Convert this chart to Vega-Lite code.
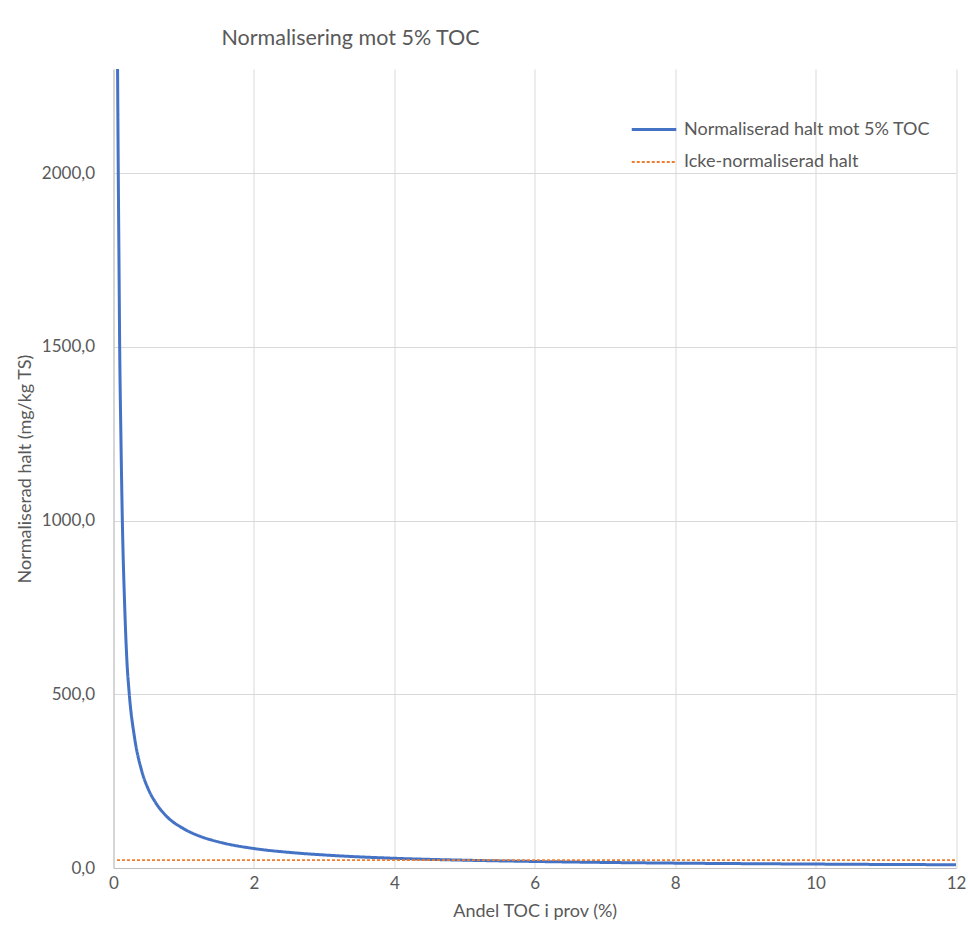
{
  "$schema": "https://vega.github.io/schema/vega-lite/v6.json",
  "autosize": {"type": "none"},
  "padding": {"left": 113.5, "top": 69, "right": 12, "bottom": 72},
  "width": 842.5,
  "height": 799,
  "background": "white",
  "title": {
    "text": "Normalisering mot 5% TOC",
    "anchor": "start",
    "frame": "group",
    "dx": 108,
    "offset": 20,
    "font": "Lato",
    "fontSize": 21.5,
    "fontWeight": "normal",
    "color": "#595959"
  },
  "data": {
    "values": [
      {"toc": 0.058, "halt": 2300, "serie": "Normaliserad halt mot 5% TOC"},
      {"toc": 0.068, "halt": 2000, "serie": "Normaliserad halt mot 5% TOC"},
      {"toc": 0.078, "halt": 1750, "serie": "Normaliserad halt mot 5% TOC"},
      {"toc": 0.088, "halt": 1500, "serie": "Normaliserad halt mot 5% TOC"},
      {"toc": 0.105, "halt": 1250, "serie": "Normaliserad halt mot 5% TOC"},
      {"toc": 0.126, "halt": 1000, "serie": "Normaliserad halt mot 5% TOC"},
      {"toc": 0.16, "halt": 750, "serie": "Normaliserad halt mot 5% TOC"},
      {"toc": 0.19, "halt": 600, "serie": "Normaliserad halt mot 5% TOC"},
      {"toc": 0.225, "halt": 500, "serie": "Normaliserad halt mot 5% TOC"},
      {"toc": 0.3, "halt": 375, "serie": "Normaliserad halt mot 5% TOC"},
      {"toc": 0.4, "halt": 281, "serie": "Normaliserad halt mot 5% TOC"},
      {"toc": 0.5, "halt": 225, "serie": "Normaliserad halt mot 5% TOC"},
      {"toc": 0.6, "halt": 188, "serie": "Normaliserad halt mot 5% TOC"},
      {"toc": 0.75, "halt": 150, "serie": "Normaliserad halt mot 5% TOC"},
      {"toc": 1.0, "halt": 113, "serie": "Normaliserad halt mot 5% TOC"},
      {"toc": 1.25, "halt": 90, "serie": "Normaliserad halt mot 5% TOC"},
      {"toc": 1.5, "halt": 75, "serie": "Normaliserad halt mot 5% TOC"},
      {"toc": 2, "halt": 56, "serie": "Normaliserad halt mot 5% TOC"},
      {"toc": 2.5, "halt": 45, "serie": "Normaliserad halt mot 5% TOC"},
      {"toc": 3, "halt": 37.5, "serie": "Normaliserad halt mot 5% TOC"},
      {"toc": 4, "halt": 28, "serie": "Normaliserad halt mot 5% TOC"},
      {"toc": 5, "halt": 22.5, "serie": "Normaliserad halt mot 5% TOC"},
      {"toc": 6, "halt": 18.8, "serie": "Normaliserad halt mot 5% TOC"},
      {"toc": 7, "halt": 16, "serie": "Normaliserad halt mot 5% TOC"},
      {"toc": 8, "halt": 14, "serie": "Normaliserad halt mot 5% TOC"},
      {"toc": 9, "halt": 12.5, "serie": "Normaliserad halt mot 5% TOC"},
      {"toc": 10, "halt": 11.3, "serie": "Normaliserad halt mot 5% TOC"},
      {"toc": 11, "halt": 10.2, "serie": "Normaliserad halt mot 5% TOC"},
      {"toc": 12, "halt": 9.4, "serie": "Normaliserad halt mot 5% TOC"},
      {"toc": 0.05, "halt": 22.5, "serie": "Icke-normaliserad halt"},
      {"toc": 12, "halt": 22.5, "serie": "Icke-normaliserad halt"}
    ]
  },
  "mark": {"type": "line", "interpolate": "monotone", "clip": true},
  "encoding": {
    "x": {
      "field": "toc",
      "type": "quantitative",
      "scale": {"domain": [0, 12], "nice": false},
      "axis": {
        "title": "Andel TOC i prov (%)",
        "values": [0, 2, 4, 6, 8, 10, 12],
        "labelExpr": "format(datum.value, 'd')",
        "labelFlush": false,
        "ticks": false,
        "labelPadding": 7,
        "titlePadding": 11,
        "domainColor": "#BFBFBF",
        "gridColor": "#D9D9D9"
      }
    },
    "y": {
      "field": "halt",
      "type": "quantitative",
      "scale": {"domain": [0, 2300], "nice": false},
      "axis": {
        "title": "Normaliserad halt (mg/kg TS)",
        "values": [0, 500, 1000, 1500, 2000],
        "labelExpr": "replace(format(datum.value, '.1f'), '.', ',')",
        "labelFlush": false,
        "ticks": false,
        "labelPadding": 19,
        "titlePadding": 7,
        "domainColor": "#BFBFBF",
        "gridColor": "#D9D9D9"
      }
    },
    "color": {
      "field": "serie",
      "type": "nominal",
      "scale": {
        "domain": ["Normaliserad halt mot 5% TOC", "Icke-normaliserad halt"],
        "range": ["#4472C4", "#ED7D31"]
      },
      "legend": {
        "title": null,
        "orient": "none",
        "legendX": 516.5,
        "legendY": 36.5,
        "symbolType": "stroke",
        "symbolSize": 1980,
        "symbolStrokeWidth": 2.5,
        "labelFont": "Lato",
        "labelFontSize": 18,
        "labelLimit": 500,
        "labelColor": "#595959",
        "labelOffset": 6,
        "rowPadding": -9
      }
    },
    "strokeDash": {
      "field": "serie",
      "type": "nominal",
      "scale": {
        "domain": ["Normaliserad halt mot 5% TOC", "Icke-normaliserad halt"],
        "range": [[1, 0], [3, 2]]
      },
      "legend": null
    },
    "strokeWidth": {
      "field": "serie",
      "type": "nominal",
      "scale": {
        "domain": ["Normaliserad halt mot 5% TOC", "Icke-normaliserad halt"],
        "range": [3, 1.8]
      },
      "legend": null
    }
  },
  "config": {
    "view": {"stroke": null},
    "axis": {
      "labelFont": "Lato",
      "labelFontSize": 17,
      "labelColor": "#595959",
      "titleFont": "Lato",
      "titleFontSize": 18,
      "titleFontWeight": "normal",
      "titleColor": "#595959"
    }
  }
}
